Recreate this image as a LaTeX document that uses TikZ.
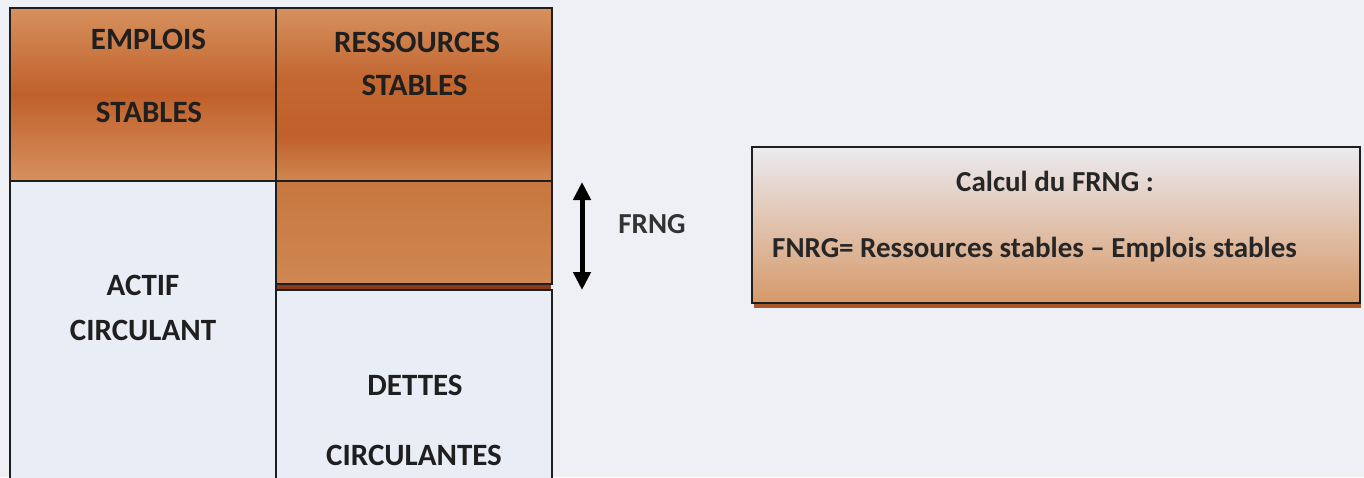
\documentclass[tikz,border=0pt]{standalone}
\usepackage{fontspec}
\setmainfont{Carlito}
\usetikzlibrary{arrows.meta}
\definecolor{bg}{HTML}{EEF0F5}
\definecolor{cellw}{HTML}{E9EDF5}
\definecolor{orL}{HTML}{D6915E}
\definecolor{orD}{HTML}{C0602A}
\definecolor{orM}{HTML}{C7773F}
\definecolor{orB}{HTML}{D08752}
\definecolor{lineD}{HTML}{1E1E1E}
\definecolor{calTop}{HTML}{EBEBF0}
\definecolor{calBot}{HTML}{D6996A}
\definecolor{shad}{HTML}{A9582A}
\definecolor{band}{HTML}{8A3A18}
\pgfdeclareverticalshading{resshade}{100bp}{color(0bp)=(orB); color(25bp)=(orB); color(38bp)=(orD); color(55bp)=(orD!85!orL); color(75bp)=(orL); color(100bp)=(orL)}
\tikzset{
  cell/.style={draw=lineD, line width=1.8pt},
  lbl/.style={font=\fontsize{31}{36}\selectfont\bfseries, text=black!88, inner sep=0pt, anchor=base},
  rlbl/.style={font=\fontsize{29}{34}\selectfont\bfseries, text=black!85, inner sep=0pt, anchor=base},
}
\begin{document}
\begin{tikzpicture}[x=1pt,y=-1pt]
\useasboundingbox (0,0) rectangle (1364,477);
\clip (0,0) rectangle (1364,477);
\fill[bg] (0,0) rectangle (1364,477);
% left column
\path[cell, top color=orL, bottom color=orL, middle color=orD] (10,8) rectangle (276,181);
\path[cell, fill=cellw] (10,181) rectangle (276,490);
% right column
\path[cell, shading=resshade] (276,8) rectangle (552,181);
\path[cell, top color=orM, bottom color=orB] (276,181) rectangle (552,284);
\fill[band] (277,285) rectangle (551,290);
\path[cell, fill=cellw] (276,290) rectangle (552,490);
% labels
\node[lbl] (emp1) at (148.5,49) {EMPLOIS};
\node[lbl] (emp2) at (149,122) {STABLES};
\node[lbl] (res1) at (417,52) {RESSOURCES};
\node[lbl] (res2) at (414.5,95) {STABLES};
\node[lbl] (act1) at (143,295) {ACTIF};
\node[lbl] (act2) at (143,340) {CIRCULANT};
\node[lbl] (det1) at (415,395) {DETTES};
\node[lbl] (det2) at (414,465) {CIRCULANTES};
% arrow
\coordinate (atop) at (582,182);
\coordinate (abot) at (582,290);
\draw[line width=5pt, {Triangle[length=18pt,width=17pt]}-{Triangle[length=18pt,width=17pt]}] (atop) -- (abot);
\node[rlbl, text=black!80] (frng) at (652,233) {FRNG};
% calc box
\fill[shad] (754,150) rectangle (1361,308);
\path[draw=lineD, line width=1.6pt, top color=calTop, bottom color=calBot] (752,147) rectangle (1360,303);
\node[rlbl] (calc) at (1055,191) {Calcul du FRNG :};
\node[rlbl, anchor=base west] (form) at (772,257) {FNRG= Ressources stables – Emplois stables};
\end{tikzpicture}
\end{document}
